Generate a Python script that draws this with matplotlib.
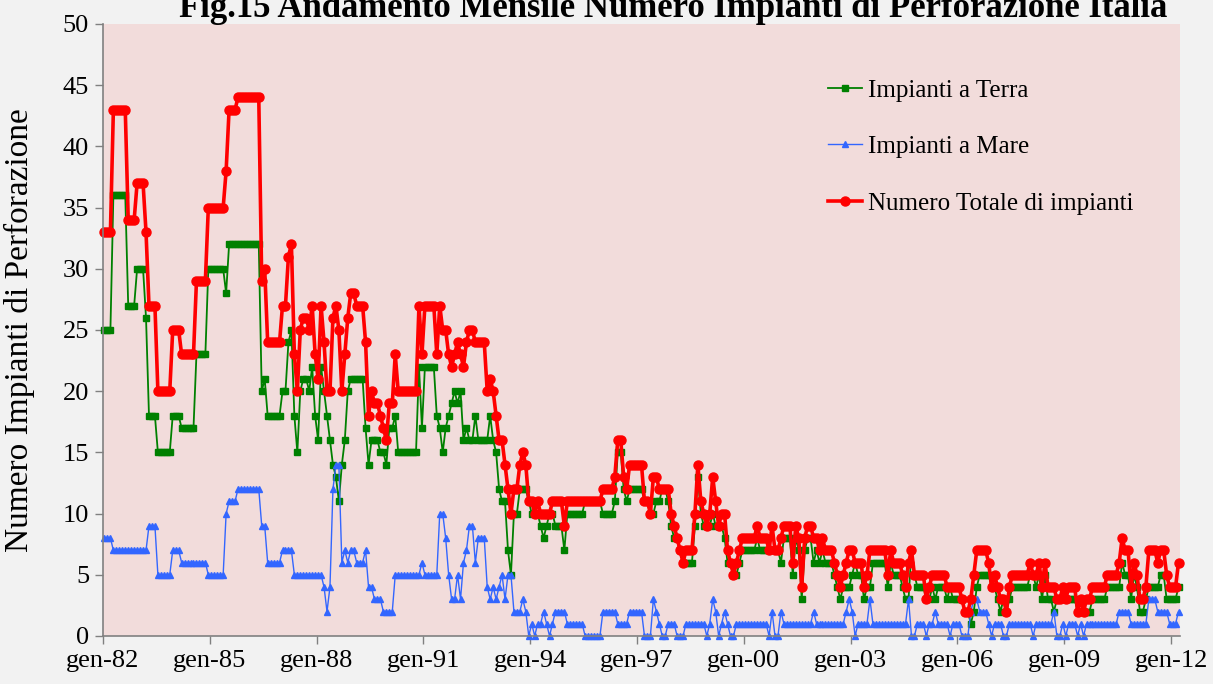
import matplotlib
matplotlib.use("Agg")
import matplotlib.pyplot as plt

plt.rcParams['font.family'] = ['Liberation Serif', 'DejaVu Serif']

# dati mensili gen-1982 .. mar-2012
terra = [
    25, 25, 25, 36, 36, 36, 36, 36, 27, 27, 27, 30,   # 1982
    30, 30, 26, 18, 18, 18, 15, 15, 15, 15, 15, 18,   # 1983
    18, 18, 17, 17, 17, 17, 17, 23, 23, 23, 23, 30,   # 1984
    30, 30, 30, 30, 30, 28, 32, 32, 32, 32, 32, 32,   # 1985
    32, 32, 32, 32, 32, 20, 21, 18, 18, 18, 18, 18,   # 1986
    20, 20, 24, 25, 18, 15, 20, 21, 21, 20, 22, 18,   # 1987
    16, 22, 20, 18, 16, 14, 13, 11, 14, 16, 20, 21,   # 1988
    21, 21, 21, 21, 17, 14, 16, 16, 16, 15, 15, 14,   # 1989
    17, 17, 18, 15, 15, 15, 15, 15, 15, 15, 22, 17,   # 1990
    22, 22, 22, 22, 18, 17, 15, 17, 18, 19, 20, 19,   # 1991
    20, 16, 17, 16, 16, 18, 16, 16, 16, 16, 18, 16,   # 1992
    15, 12, 11, 11, 7, 5, 10, 10, 12, 12, 12, 11,     # 1993
    10, 10, 10, 9, 8, 9, 10, 10, 9, 9, 9, 7,          # 1994
    10, 10, 10, 10, 10, 10, 11, 11, 11, 11, 11, 11,   # 1995
    10, 10, 10, 10, 11, 15, 15, 12, 11, 12, 12, 12,   # 1996
    12, 12, 11, 11, 10, 10, 11, 11, 12, 12, 11, 9,    # 1997
    8, 8, 7, 6, 6, 6, 6, 9, 13, 10, 9, 9,             # 1998
    9, 10, 9, 9, 9, 8, 6, 6, 5, 5, 6, 7,              # 1999
    7, 7, 7, 7, 8, 7, 7, 7, 7, 7, 7, 7,               # 2000
    6, 8, 8, 8, 5, 8, 7, 3, 7, 8, 8, 6,               # 2001
    7, 6, 7, 6, 6, 6, 5, 4, 3, 4, 4, 4,               # 2002
    5, 6, 5, 5, 3, 4, 4, 6, 6, 6, 6, 6,               # 2003
    4, 6, 5, 5, 5, 4, 3, 3, 7, 5, 4, 4,               # 2004
    4, 3, 3, 4, 3, 4, 4, 4, 3, 4, 3, 3,               # 2005
    3, 3, 2, 2, 1, 2, 4, 5, 5, 5, 5, 4,               # 2006
    4, 3, 2, 3, 2, 3, 4, 4, 4, 4, 4, 4,               # 2007
    5, 5, 4, 5, 3, 5, 3, 3, 2, 3, 3, 3,               # 2008
    3, 3, 3, 3, 2, 2, 2, 2, 2, 3, 3, 3,               # 2009
    3, 3, 4, 4, 4, 4, 4, 6, 5, 5, 3, 5,               # 2010
    4, 2, 2, 3, 4, 4, 4, 4, 5, 5, 3, 3,               # 2011
    3, 3, 4,                                          # 2012
]

mare = [
    8, 8, 8, 7, 7, 7, 7, 7, 7, 7, 7, 7,
    7, 7, 7, 9, 9, 9, 5, 5, 5, 5, 5, 7,
    7, 7, 6, 6, 6, 6, 6, 6, 6, 6, 6, 5,
    5, 5, 5, 5, 5, 10, 11, 11, 11, 12, 12, 12,
    12, 12, 12, 12, 12, 9, 9, 6, 6, 6, 6, 6,
    7, 7, 7, 7, 5, 5, 5, 5, 5, 5, 5, 5,
    5, 5, 4, 2, 4, 12, 14, 14, 6, 7, 6, 7,
    7, 6, 6, 6, 7, 4, 4, 3, 3, 3, 2, 2,
    2, 2, 5, 5, 5, 5, 5, 5, 5, 5, 5, 6,
    5, 5, 5, 5, 5, 10, 10, 8, 5, 3, 3, 5,
    3, 6, 7, 9, 9, 6, 8, 8, 8, 4, 3, 4,
    3, 4, 5, 3, 5, 5, 2, 2, 2, 3, 2, 0,
    1, 0, 1, 1, 2, 1, 0, 1, 2, 2, 2, 2,
    1, 1, 1, 1, 1, 1, 0, 0, 0, 0, 0, 0,
    2, 2, 2, 2, 2, 1, 1, 1, 1, 2, 2, 2,
    2, 2, 0, 0, 0, 3, 2, 1, 0, 0, 1, 1,
    1, 0, 0, 0, 1, 1, 1, 1, 1, 1, 1, 0,
    1, 3, 2, 0, 1, 2, 1, 0, 0, 1, 1, 1,
    1, 1, 1, 1, 1, 1, 1, 1, 0, 2, 0, 0,
    2, 1, 1, 1, 1, 1, 1, 1, 1, 1, 1, 2,
    1, 1, 1, 1, 1, 1, 1, 1, 1, 1, 2, 3,
    2, 0, 1, 1, 1, 1, 3, 1, 1, 1, 1, 1,
    1, 1, 1, 1, 1, 1, 1, 3, 0, 0, 1, 1,
    1, 0, 1, 1, 2, 1, 1, 1, 1, 0, 1, 1,
    1, 0, 0, 0, 2, 3, 3, 2, 2, 2, 1, 0,
    1, 1, 1, 0, 0, 1, 1, 1, 1, 1, 1, 1,
    1, 0, 1, 1, 1, 1, 1, 1, 2, 0, 0, 1,
    0, 1, 1, 1, 0, 1, 0, 1, 1, 1, 1, 1,
    1, 1, 1, 1, 1, 1, 2, 2, 2, 2, 1, 1,
    1, 1, 1, 1, 3, 3, 3, 2, 2, 2, 2, 1,
    1, 1, 2,
]

totale = [
    33, 33, 33, 43, 43, 43, 43, 43, 34, 34, 34, 37,
    37, 37, 33, 27, 27, 27, 20, 20, 20, 20, 20, 25,
    25, 25, 23, 23, 23, 23, 23, 29, 29, 29, 29, 35,
    35, 35, 35, 35, 35, 38, 43, 43, 43, 44, 44, 44,
    44, 44, 44, 44, 44, 29, 30, 24, 24, 24, 24, 24,
    27, 27, 31, 32, 23, 20, 25, 26, 26, 25, 27, 23,
    21, 27, 24, 20, 20, 26, 27, 25, 20, 23, 26, 28,
    28, 27, 27, 27, 24, 18, 20, 19, 19, 18, 17, 16,
    19, 19, 23, 20, 20, 20, 20, 20, 20, 20, 27, 23,
    27, 27, 27, 27, 23, 27, 25, 25, 23, 22, 23, 24,
    23, 22, 24, 25, 25, 24, 24, 24, 24, 20, 21, 20,
    18, 16, 16, 14, 12, 10, 12, 12, 14, 15, 14, 11,
    11, 10, 11, 10, 10, 10, 10, 11, 11, 11, 11, 9,
    11, 11, 11, 11, 11, 11, 11, 11, 11, 11, 11, 11,
    12, 12, 12, 12, 13, 16, 16, 13, 12, 14, 14, 14,
    14, 14, 11, 11, 10, 13, 13, 12, 12, 12, 12, 10,
    9, 8, 7, 6, 7, 7, 7, 10, 14, 11, 10, 9,
    10, 13, 11, 9, 10, 10, 7, 6, 5, 6, 7, 8,
    8, 8, 8, 8, 9, 8, 8, 8, 7, 9, 7, 7,
    8, 9, 9, 9, 6, 9, 8, 4, 8, 9, 9, 8,
    8, 7, 8, 7, 7, 7, 6, 5, 4, 5, 6, 7,
    7, 6, 6, 6, 4, 5, 7, 7, 7, 7, 7, 7,
    5, 7, 6, 6, 6, 5, 4, 6, 7, 5, 5, 5,
    5, 3, 4, 5, 5, 5, 5, 5, 4, 4, 4, 4,
    4, 3, 2, 2, 3, 5, 7, 7, 7, 7, 6, 4,
    5, 4, 3, 3, 2, 4, 5, 5, 5, 5, 5, 5,
    6, 5, 5, 6, 4, 6, 4, 4, 4, 3, 3, 4,
    3, 4, 4, 4, 2, 3, 2, 3, 3, 4, 4, 4,
    4, 4, 5, 5, 5, 5, 6, 8, 7, 7, 4, 6,
    5, 3, 3, 4, 7, 7, 7, 6, 7, 7, 5, 4,
    4, 4, 6,
]

etichette_x = ['gen-82', 'gen-85', 'gen-88', 'gen-91', 'gen-94', 'gen-97',
               'gen-00', 'gen-03', 'gen-06', 'gen-09', 'gen-12']

mesi = list(range(len(totale)))

W, H = 1213, 684
fig = plt.figure(figsize=(W / 100, H / 100), dpi=100, facecolor='#f2f2f2')
ax = fig.add_axes([103 / W, 48 / H, 1077 / W, 612 / H])
ax.set_facecolor('#f2dcdb')

ax.plot(mesi, terra, color='#008000', lw=1.3, marker='s', ms=4.3,
        label='Impianti a Terra', clip_on=False)
ax.plot(mesi, mare, color='#3366ff', lw=1.0, marker='^', ms=4.6,
        label='Impianti a Mare', clip_on=False)
ax.plot(mesi, totale, color='#ff0000', lw=2.6, marker='o', ms=6.5,
        label='Numero Totale di impianti', clip_on=False)

ax.set_ylim(0, 50)
ax.set_yticks(range(0, 51, 5))
ax.set_xlim(-0.5, 362.5)
ax.set_xticks([36 * k - 0.5 for k in range(len(etichette_x))])
ax.set_xticklabels(etichette_x)

for s in ['top', 'right']:
    ax.spines[s].set_visible(False)
for s in ['left', 'bottom']:
    ax.spines[s].set_color('#808080')
    ax.spines[s].set_linewidth(1.2)
ax.tick_params(direction='out', length=6, width=1, color='#808080',
               labelsize=19, pad=4)

ax.set_ylabel('Numero Impianti di Perforazione', fontsize=24)
ax.yaxis.set_label_coords(-0.063, 0.5)

ax.legend(loc='upper left', bbox_to_anchor=(0.673, 0.91), frameon=False,
          fontsize=18, handlelength=1.36, handletextpad=0.25,
          labelspacing=1.36, borderpad=0, borderaxespad=0)

fig.text(0.555, 1 - 17 / H,
         'Fig.15 Andamento Mensile Numero Impianti di Perforazione Italia',
         ha='center', va='baseline', fontsize=25, fontweight='bold')

fig.savefig('out.png', dpi=100, facecolor=fig.get_facecolor())
